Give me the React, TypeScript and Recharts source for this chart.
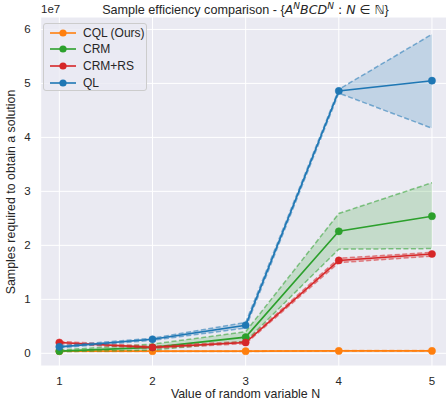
import { ComposedChart, Line, Area, XAxis, YAxis, CartesianGrid } from "recharts";

// values in units of 1e7 samples
const N_VALUES = [1, 2, 3, 4, 5];
const X_TICKS = [1, 2, 3, 4, 5];
const Y_TICKS = [0, 1, 2, 3, 4, 5, 6];

const CQL_MEAN = [0.04, 0.04, 0.04, 0.045, 0.045];
const CQL_LOW = [0.035, 0.035, 0.035, 0.04, 0.04];
const CQL_HIGH = [0.045, 0.045, 0.045, 0.05, 0.05];

const CRM_MEAN = [0.04, 0.11, 0.3, 2.26, 2.54];
const CRM_LOW = [0.03, 0.06, 0.22, 1.93, 1.94];
const CRM_HIGH = [0.06, 0.17, 0.4, 2.59, 3.16];

const CRMRS_MEAN = [0.2, 0.11, 0.2, 1.72, 1.84];
const CRMRS_LOW = [0.18, 0.09, 0.18, 1.68, 1.8];
const CRMRS_HIGH = [0.22, 0.13, 0.22, 1.76, 1.87];

const QL_MEAN = [0.12, 0.26, 0.52, 4.86, 5.05];
const QL_LOW = [0.1, 0.24, 0.47, 4.82, 4.17];
const QL_HIGH = [0.14, 0.28, 0.57, 4.89, 5.91];

const SERIES = [
  { key: "cql", name: "CQL (Ours)", color: "#ff7f0e", mean: CQL_MEAN, low: CQL_LOW, high: CQL_HIGH },
  { key: "crm", name: "CRM", color: "#2ca02c", mean: CRM_MEAN, low: CRM_LOW, high: CRM_HIGH },
  { key: "crmrs", name: "CRM+RS", color: "#d62728", mean: CRMRS_MEAN, low: CRMRS_LOW, high: CRMRS_HIGH },
  { key: "ql", name: "QL", color: "#1f77b4", mean: QL_MEAN, low: QL_LOW, high: QL_HIGH },
];

const FONT = "'Liberation Sans', Arial, sans-serif";
const MATH_FONT = "'DejaVu Sans', sans-serif";
const TEXT_COLOR = "#262626";

const data = N_VALUES.map((n, i) => {
  const row: Record<string, any> = { n };
  for (const s of SERIES) {
    row[s.key] = s.mean[i];
    row[s.key + "Low"] = s.low[i];
    row[s.key + "High"] = s.high[i];
    row[s.key + "Band"] = [s.low[i], s.high[i]];
  }
  return row;
});

export default function App() {
  return (
    <div
      style={{
        position: "absolute",
        left: 0,
        top: 0,
        width: 446,
        height: 406,
        overflow: "hidden",
        background: "#fff",
        fontFamily: FONT,
        color: TEXT_COLOR,
      }}
    >
      <ComposedChart
        width={460}
        height={406}
        data={data}
        margin={{ top: 17, right: 9.4, bottom: 10, left: 0 }}
      >
        <CartesianGrid fill="#eaeaf2" stroke="#ffffff" strokeWidth={1} />
        <XAxis
          dataKey="n"
          type="number"
          domain={[0.8, 5.2]}
          ticks={X_TICKS}
          axisLine={false}
          tickLine={false}
          tickSize={0}
          tickMargin={11}
          height={30}
          tick={{ fill: TEXT_COLOR, fontSize: 11.5, fontFamily: FONT }}
        />
        <YAxis
          type="number"
          domain={[-0.235, 6.23]}
          ticks={Y_TICKS}
          axisLine={false}
          tickLine={false}
          tickSize={0}
          tickMargin={10}
          width={40.7}
          allowDataOverflow
          tick={{ fill: TEXT_COLOR, fontSize: 11.5, fontFamily: FONT }}
        />
        {SERIES.flatMap((s) => [
          <Area
            key={s.key + "Band"}
            dataKey={s.key + "Band"}
            type="linear"
            stroke="none"
            fill={s.color}
            fillOpacity={0.2}
            isAnimationActive={false}
            activeDot={false}
          />,
          <Line
            key={s.key + "High"}
            dataKey={s.key + "High"}
            type="linear"
            stroke={s.color}
            strokeOpacity={0.55}
            strokeWidth={1.5}
            strokeDasharray="5 2.5"
            dot={false}
            activeDot={false}
            isAnimationActive={false}
          />,
          <Line
            key={s.key + "Low"}
            dataKey={s.key + "Low"}
            type="linear"
            stroke={s.color}
            strokeOpacity={0.55}
            strokeWidth={1.5}
            strokeDasharray="5 2.5"
            dot={false}
            activeDot={false}
            isAnimationActive={false}
          />,
          <Line
            key={s.key}
            dataKey={s.key}
            type="linear"
            stroke={s.color}
            strokeWidth={1.6}
            dot={{ r: 3.6, fill: s.color, stroke: s.color, strokeWidth: 0.5 }}
            activeDot={false}
            isAnimationActive={false}
          />,
        ])}
      </ComposedChart>

      {/* title */}
      <div
        style={{
          position: "absolute",
          left: 0,
          width: 491,
          top: 1,
          textAlign: "center",
          fontSize: 12.6,
          whiteSpace: "nowrap",
        }}
      >
        Sample efficiency comparison - {"{"}
        <span style={{ fontFamily: MATH_FONT, fontStyle: "italic" }}>A</span>
        <sup style={{ fontSize: 9, fontFamily: MATH_FONT, fontStyle: "italic" }}>N</sup>
        <span style={{ fontFamily: MATH_FONT, fontStyle: "italic" }}>BCD</span>
        <sup style={{ fontSize: 9, fontFamily: MATH_FONT, fontStyle: "italic" }}>N</sup>
        <span style={{ fontFamily: MATH_FONT }}> : </span>
        <span style={{ fontFamily: MATH_FONT, fontStyle: "italic" }}>N</span>
        <span style={{ fontFamily: MATH_FONT }}> ∈ ℕ</span>
        {"}"}
      </div>

      {/* offset text */}
      <div style={{ position: "absolute", left: 41, top: 3, fontSize: 11.5 }}>1e7</div>

      {/* axis labels */}
      <div
        style={{
          position: "absolute",
          left: 0,
          width: 491,
          top: 387,
          textAlign: "center",
          fontSize: 12.4,
          whiteSpace: "nowrap",
        }}
      >
        Value of random variable N
      </div>
      <div
        style={{
          position: "absolute",
          left: 11,
          top: 191.5,
          transform: "translate(-50%, -50%) rotate(-90deg)",
          fontSize: 12.4,
          whiteSpace: "nowrap",
        }}
      >
        Samples required to obtain a solution
      </div>

      {/* legend */}
      <div
        style={{
          position: "absolute",
          left: 43,
          top: 23,
          width: 102,
          height: 66,
          background: "rgba(234,234,242,0.8)",
          border: "1px solid #cccccc",
          borderRadius: 3,
          fontSize: 12,
        }}
      >
        {SERIES.map((s, i) => (
          <div
            key={s.key}
            style={{
              position: "absolute",
              left: 0,
              top: 0.5 + i * 16.7,
              height: 16,
              display: "flex",
              alignItems: "center",
            }}
          >
            <svg width={32} height={16} style={{ marginLeft: 6 }}>
              <line x1={0} y1={8} x2={26} y2={8} stroke={s.color} strokeWidth={1.6} />
              <circle cx={13} cy={8} r={3.6} fill={s.color} />
            </svg>
            <span style={{ marginLeft: 1 }}>{s.name}</span>
          </div>
        ))}
      </div>
    </div>
  );
}
